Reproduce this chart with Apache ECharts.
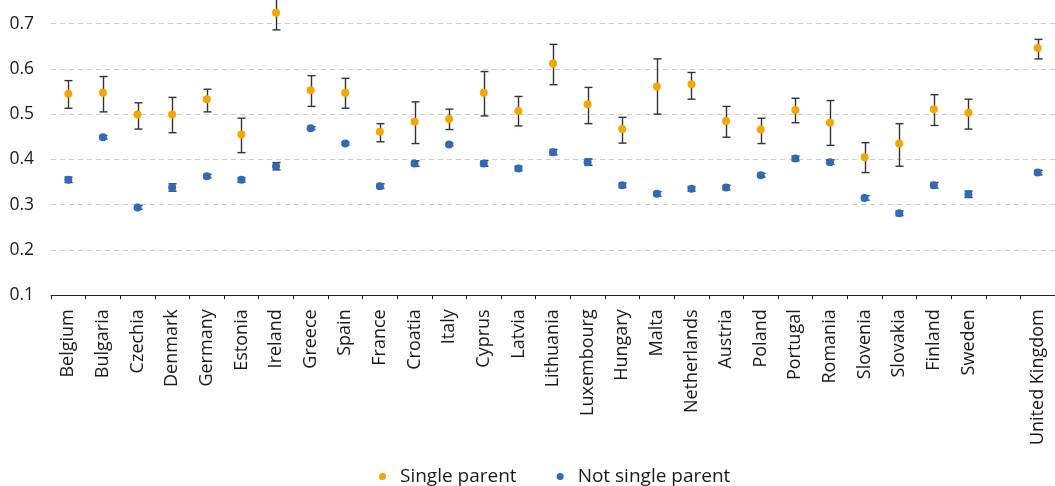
<!DOCTYPE html>
<html>
<head>
<meta charset="utf-8">
<script src="https://cdn.jsdelivr.net/npm/echarts@6/dist/echarts.min.js"></script>
<style>
  html, body { margin: 0; padding: 0; background: #fff; }
  #chart { width: 1055px; height: 486px; }
</style>
</head>
<body>
<div id="chart"></div>
<script>
// Countries (an empty slot separates the United Kingdom from the EU members)
const categories = ['Belgium', 'Bulgaria', 'Czechia', 'Denmark', 'Germany', 'Estonia', 'Ireland',
  'Greece', 'Spain', 'France', 'Croatia', 'Italy', 'Cyprus', 'Latvia', 'Lithuania', 'Luxembourg',
  'Hungary', 'Malta', 'Netherlands', 'Austria', 'Poland', 'Portugal', 'Romania', 'Slovenia',
  'Slovakia', 'Finland', 'Sweden', '', 'United Kingdom'];

// Single-parent households: estimate and confidence interval bounds
const singleParent = [0.545, 0.547, 0.499, 0.499, 0.533, 0.455, 0.724, 0.553, 0.547, 0.461, 0.483, 0.489,
  0.547, 0.507, 0.612, 0.522, 0.467, 0.561, 0.566, 0.485, 0.466, 0.509, 0.481, 0.405, 0.435, 0.511, 0.503, null, 0.646];
const singleLow = [0.513, 0.505, 0.467, 0.459, 0.505, 0.415, 0.686, 0.517, 0.513, 0.439, 0.435, 0.466,
  0.496, 0.474, 0.565, 0.479, 0.436, 0.500, 0.533, 0.449, 0.435, 0.481, 0.431, 0.371, 0.385, 0.475, 0.467, null, 0.622];
const singleHigh = [0.574, 0.583, 0.525, 0.537, 0.555, 0.491, 0.762, 0.585, 0.579, 0.479, 0.527, 0.511,
  0.594, 0.539, 0.654, 0.559, 0.493, 0.622, 0.592, 0.517, 0.491, 0.535, 0.530, 0.437, 0.479, 0.543, 0.533, null, 0.665];

// Other households: estimate and half-width of the confidence interval
const notSingle = [0.355, 0.449, 0.294, 0.338, 0.363, 0.355, 0.385, 0.469, 0.435, 0.341, 0.391, 0.433,
  0.391, 0.380, 0.416, 0.394, 0.343, 0.324, 0.335, 0.338, 0.365, 0.402, 0.394, 0.315, 0.281, 0.343, 0.323, null, 0.371];
const notSingleErr = [0.006, 0.004, 0.004, 0.008, 0.004, 0.005, 0.008, 0.003, 0.003, 0.005, 0.006, 0.003,
  0.006, 0.005, 0.006, 0.007, 0.005, 0.005, 0.005, 0.005, 0.004, 0.005, 0.005, 0.005, 0.005, 0.006, 0.007, null, 0.005];

// y-axis ticks (the top of the plot sits just above 0.75)
const yTicks = { min: 0.1, max: 0.752, step: 0.1 };

const FONT = 'Open Sans';
const ORANGE = '#F7A600';
const BLUE = '#2E6AB5';
const BAR = '#333333';

const singleBars = [];
const otherBars = [];
categories.forEach((c, i) => {
  if (singleParent[i] != null) singleBars.push([i, singleLow[i], singleHigh[i]]);
  if (notSingle[i] != null) otherBars.push([i, notSingle[i] - notSingleErr[i], notSingle[i] + notSingleErr[i]]);
});

function errorBar(params, api) {
  const lo = api.coord([api.value(0), api.value(1)]);
  const hi = api.coord([api.value(0), api.value(2)]);
  const x = Math.round(lo[0]) + 0.5;
  const half = 4;
  const style = { stroke: BAR, lineWidth: 1.4 };
  return {
    type: 'group',
    children: [
      { type: 'line', shape: { x1: x, y1: lo[1], x2: x, y2: hi[1] }, style },
      { type: 'line', shape: { x1: x - half, y1: lo[1], x2: x + half, y2: lo[1] }, style },
      { type: 'line', shape: { x1: x - half, y1: hi[1], x2: x + half, y2: hi[1] }, style }
    ]
  };
}

const isTick = v => Math.abs(v * 10 - Math.round(v * 10)) < 1e-6;

const chart = echarts.init(document.getElementById('chart'), null, { renderer: 'canvas' });
chart.setOption({
  animation: false,
  backgroundColor: '#fff',
  textStyle: { fontFamily: FONT },
  grid: { left: 51, right: -3, top: 0, bottom: 190.7, containLabel: false },
  legend: {
    left: 374,
    top: 462,
    data: ['Single parent', 'Not single parent'],
    icon: 'circle',
    itemWidth: 7,
    itemHeight: 7,
    itemGap: 40,
    textStyle: { fontFamily: FONT, fontSize: 19, color: '#1a1a1a', padding: [0, 0, 0, 9] }
  },
  xAxis: {
    type: 'category',
    data: categories,
    boundaryGap: true,
    axisLine: { lineStyle: { color: '#222', width: 1.2 } },
    axisTick: { show: true, length: 4, interval: 0, lineStyle: { color: '#222', width: 1 } },
    axisLabel: {
      interval: 0,
      rotate: 90,
      margin: 14,
      fontFamily: FONT,
      fontSize: 18,
      color: '#1a1a1a'
    },
    splitLine: { show: false }
  },
  yAxis: {
    type: 'value',
    min: yTicks.min,
    max: yTicks.max,
    interval: yTicks.step,
    axisLine: { show: false },
    axisTick: { show: false },
    axisLabel: {
      margin: 17,
      fontFamily: FONT,
      fontSize: 17.5,
      color: '#1a1a1a',
      showMaxLabel: false,
      formatter: v => isTick(v) ? v.toFixed(1) : ''
    },
    splitLine: { showMaxLine: false, lineStyle: { color: '#cccccc', width: 1.2, type: [5, 4] } }
  },
  series: [
    {
      name: 'Single parent CI',
      type: 'custom',
      renderItem: errorBar,
      data: singleBars,
      clip: false,
      z: 3,
      silent: true
    },
    {
      name: 'Not single parent CI',
      type: 'custom',
      renderItem: errorBar,
      data: otherBars,
      z: 3,
      silent: true
    },
    {
      name: 'Single parent',
      type: 'scatter',
      data: singleParent.map(v => v == null ? '-' : v),
      symbol: 'circle',
      symbolSize: 8,
      itemStyle: { color: ORANGE, opacity: 1 },
      z: 5
    },
    {
      name: 'Not single parent',
      type: 'scatter',
      data: notSingle.map(v => v == null ? '-' : v),
      symbol: 'circle',
      symbolSize: 8,
      itemStyle: { color: BLUE, opacity: 1 },
      z: 5
    }
  ]
});
</script>
</body>
</html>
